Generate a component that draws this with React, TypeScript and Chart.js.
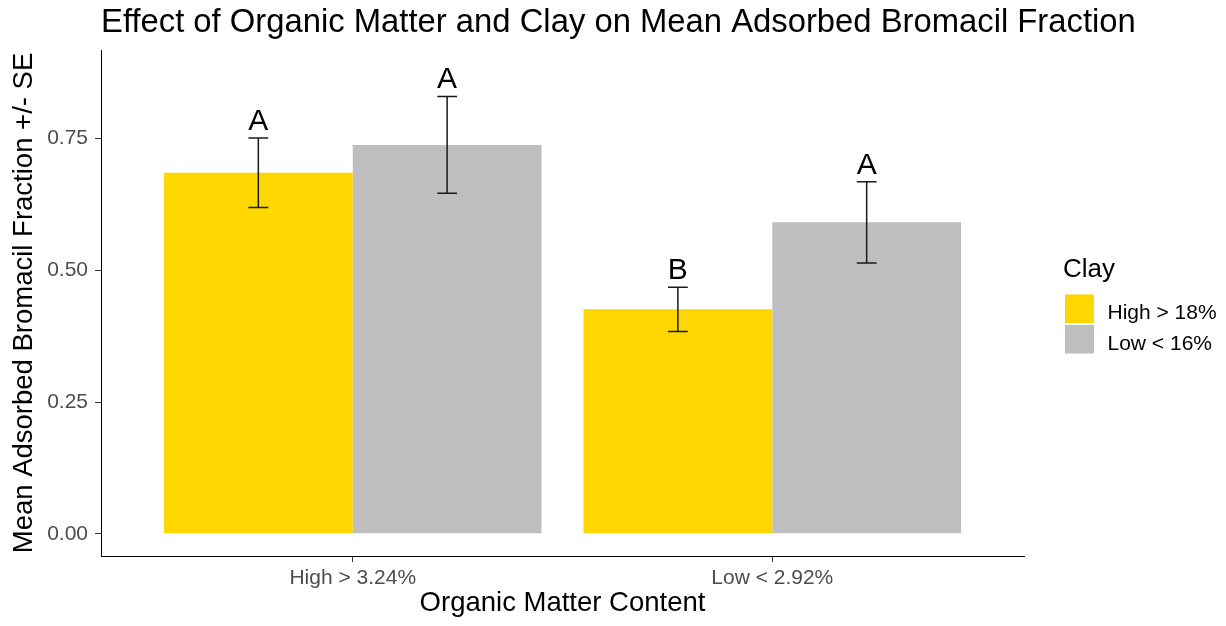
import React, { useEffect, useRef } from "react";
import { Chart, registerables } from "chart.js";

Chart.register(...registerables);

// Grouping factor on the x axis
const organicMatter = ["High > 3.24%", "Low < 2.92%"];
// Fill factor (legend entries)
const clayLevels = ["High > 18%", "Low < 16%"];
const clayColors = ["#FFD700", "#BEBEBE"];

// Mean adsorbed fraction per organic-matter group
const highClayMeans = [0.685, 0.426];
const lowClayMeans = [0.738, 0.591];

// Standard errors
const highClaySE = [0.066, 0.042];
const lowClaySE = [0.092, 0.077];

// Significance groups
const highClayLetters = ["A", "B"];
const lowClayLetters = ["A", "A"];

const yTicks = [0, 0.25, 0.5, 0.75];

const chartTitle = "Effect of Organic Matter and Clay on Mean Adsorbed Bromacil Fraction";
const xTitle = "Organic Matter Content";
const yTitle = "Mean Adsorbed Bromacil Fraction +/- SE";
const legendTitle = "Clay";

const FONT = "'Liberation Sans', Arial, Helvetica, sans-serif";

const seBySeries = [highClaySE, lowClaySE];
const lettersBySeries = [highClayLetters, lowClayLetters];
const meansBySeries = [highClayMeans, lowClayMeans];

const titlePlugin = {
  id: "plotTitle",
  afterDraw(chart: any) {
    const { ctx, chartArea } = chart;
    ctx.save();
    ctx.font = `32.8px ${FONT}`;
    ctx.fillStyle = "#000";
    ctx.textAlign = "left";
    ctx.textBaseline = "alphabetic";
    ctx.fillText(chartTitle, chartArea.left, 32);
    ctx.restore();
  },
};

const errorBarPlugin = {
  id: "errorBars",
  afterDatasetsDraw(chart: any) {
    const { ctx } = chart;
    const y = chart.scales.y;
    ctx.save();
    chart.data.datasets.forEach((_: any, di: number) => {
      const meta = chart.getDatasetMeta(di);
      meta.data.forEach((bar: any, i: number) => {
        const { x, width } = bar.getProps(["x", "width"], true);
        const mean = meansBySeries[di][i];
        const se = seBySeries[di][i];
        const top = y.getPixelForValue(mean + se);
        const bot = y.getPixelForValue(mean - se);
        const cap = width * 0.105;
        ctx.strokeStyle = "#1a1a1a";
        ctx.lineWidth = 1.5;
        ctx.beginPath();
        ctx.moveTo(x, top);
        ctx.lineTo(x, bot);
        ctx.moveTo(x - cap / 2, top);
        ctx.lineTo(x + cap / 2, top);
        ctx.moveTo(x - cap / 2, bot);
        ctx.lineTo(x + cap / 2, bot);
        ctx.stroke();

        ctx.fillStyle = "#000";
        ctx.font = `30px ${FONT}`;
        ctx.textAlign = "center";
        ctx.textBaseline = "alphabetic";
        ctx.fillText(lettersBySeries[di][i], x, y.getPixelForValue(mean + se + 0.015));
      });
    });
    ctx.restore();
  },
};

const legendPlugin = {
  id: "clayLegend",
  afterDraw(chart: any) {
    const { ctx, chartArea } = chart;
    const left = chartArea.right + 41;
    ctx.save();
    ctx.fillStyle = "#000";
    ctx.textAlign = "left";
    ctx.textBaseline = "alphabetic";
    ctx.font = `26px ${FONT}`;
    ctx.fillText(legendTitle, left - 2, 277);
    ctx.font = `21px ${FONT}`;
    chart.data.datasets.forEach((ds: any, i: number) => {
      const top = 294.5 + i * 30.5;
      ctx.fillStyle = ds.backgroundColor;
      ctx.fillRect(left, top, 29, 28.5);
      ctx.fillStyle = "#000";
      ctx.fillText(ds.label, left + 42.5, top + 24.5);
    });
    ctx.restore();
  },
};

export default function App() {
  const canvasRef = useRef<HTMLCanvasElement | null>(null);

  useEffect(() => {
    if (!canvasRef.current) return;
    const datasets = [highClayMeans, lowClayMeans].map((means, si) => ({
      label: clayLevels[si],
      data: organicMatter.map((_, i) => ({ x: i + 1, y: means[i] })),
      backgroundColor: clayColors[si],
      borderWidth: 0,
      categoryPercentage: 0.9,
      barPercentage: 1,
    }));

    const chart = new Chart(canvasRef.current, {
      type: "bar",
      data: { datasets },
      options: {
        responsive: true,
        maintainAspectRatio: false,
        animation: false,
        layout: { padding: { top: 50, right: 202, bottom: 0, left: 0 } },
        plugins: {
          legend: { display: false },
          title: { display: false },
          tooltip: { enabled: false },
        },
        scales: {
          x: {
            type: "linear",
            min: 0.4,
            max: 2.6,
            offset: false,
            grid: {
              display: true,
              drawOnChartArea: false,
              drawTicks: true,
              tickLength: 6,
              color: "#333",
              offset: false,
            },
            border: { display: true, color: "#000", width: 1 },
            ticks: {
              font: { family: FONT, size: 21 },
              color: "#4D4D4D",
              padding: 4,
              autoSkip: false,
              maxRotation: 0,
              callback: (v: any) => organicMatter[Math.round(Number(v)) - 1] ?? "",
            },
            afterBuildTicks: (s: any) => {
              s.ticks = organicMatter.map((_, i) => ({ value: i + 1 }));
            },
            afterFit: (s: any) => {
              s.height = 70;
            },
            title: {
              display: true,
              text: xTitle,
              color: "#000",
              font: { family: FONT, size: 27.5 },
              padding: { top: 0, bottom: 6 },
            },
          },
          y: {
            type: "linear",
            min: -0.042,
            max: 0.918,
            grid: {
              display: true,
              drawOnChartArea: false,
              drawTicks: true,
              tickLength: 6,
              color: "#333",
            },
            border: { display: true, color: "#000", width: 1 },
            ticks: {
              font: { family: FONT, size: 21 },
              color: "#4D4D4D",
              padding: 7,
              callback: (v: any) => Number(v).toFixed(2),
            },
            afterBuildTicks: (s: any) => {
              s.ticks = yTicks.map((v) => ({ value: v }));
            },
            afterFit: (s: any) => {
              s.width = 101;
            },
            title: {
              display: true,
              text: yTitle,
              color: "#000",
              font: { family: FONT, size: 27.5 },
              padding: { top: 7.5, bottom: 0 },
            },
          },
        },
      },
      plugins: [titlePlugin, errorBarPlugin, legendPlugin],
    } as any);

    return () => chart.destroy();
  }, []);

  return (
    <div
      style={{
        position: "fixed",
        left: 0,
        top: 0,
        width: 1226,
        height: 626,
        background: "#fff",
      }}
    >
      <canvas ref={canvasRef} />
    </div>
  );
}
